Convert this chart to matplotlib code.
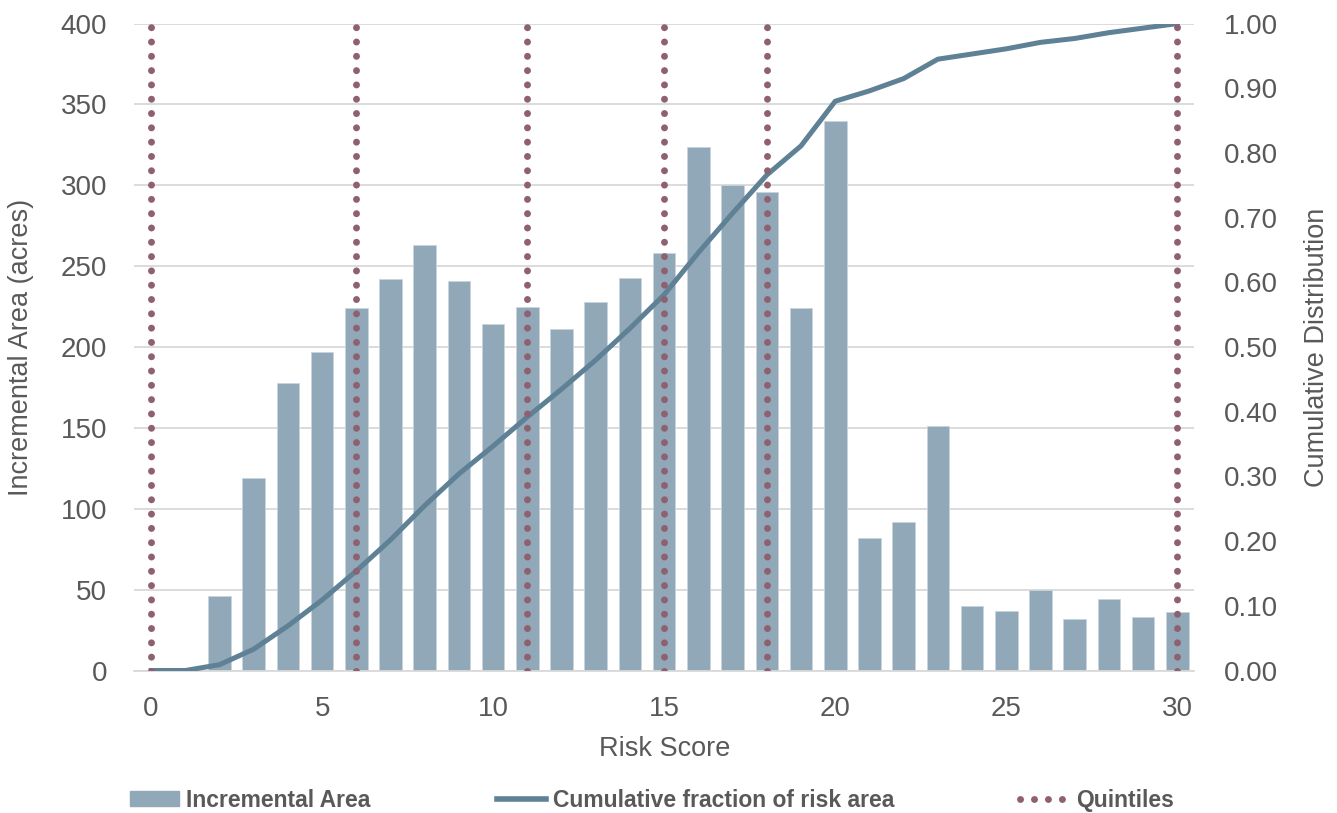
import matplotlib
matplotlib.use("Agg")
import matplotlib.pyplot as plt
from matplotlib.patches import Patch
from matplotlib.lines import Line2D

# ---- data ----
risk_score = list(range(0, 31))
incremental_area = [0, 0, 46, 119, 178, 197, 224, 242, 263, 241, 214, 225, 211, 228, 243,
                    258, 324, 300, 296, 224, 340, 82, 92, 151, 40, 37, 50, 32, 44, 33, 36]
cumulative_fraction = [0.000, 0.000, 0.009, 0.033, 0.069, 0.109, 0.154, 0.202, 0.255, 0.304,
                       0.347, 0.392, 0.435, 0.480, 0.529, 0.581, 0.646, 0.707, 0.766, 0.811,
                       0.880, 0.896, 0.915, 0.945, 0.953, 0.961, 0.971, 0.977, 0.986, 0.993, 1.000]
quintiles = [0, 6, 11, 15, 18, 30]
left_ticks = [0, 50, 100, 150, 200, 250, 300, 350, 400]
right_ticks = [0.0, 0.1, 0.2, 0.3, 0.4, 0.5, 0.6, 0.7, 0.8, 0.9, 1.0]
x_ticks = [0, 5, 10, 15, 20, 25, 30]

# ---- style ----
BAR_C = "#91A8B8"
LINE_C = "#5E8196"
DOT_C = "#8E6070"
GRID_C = "#D9D9D9"
TXT_C = "#595959"
FONT = ["Liberation Sans", "DejaVu Sans"]

plt.rcParams["font.family"] = FONT

W, H = 1337, 813
fig = plt.figure(figsize=(W / 100, H / 100), dpi=100)
ax_l, ax_r, ax_b, ax_t = 134, 1194.4, 670.5, 23.6
ax = fig.add_axes([ax_l / W, 1 - ax_b / H, (ax_r - ax_l) / W, (ax_b - ax_t) / H])

ax.bar(risk_score, incremental_area, width=0.66, color=BAR_C, edgecolor="#C9D5DE",
       linewidth=0.6, zorder=2)
ax.set_xlim(-0.5, 30.5)
ax.set_ylim(0, 400)
ax.set_yticks(left_ticks)
ax.set_xticks(x_ticks)
ax.yaxis.grid(True, color=GRID_C, linewidth=1.3, zorder=0)
ax.set_axisbelow(True)
for s in ["top", "left", "right"]:
    ax.spines[s].set_visible(False)
ax.spines["bottom"].set_color(GRID_C)
ax.spines["bottom"].set_linewidth(1.3)
ax.tick_params(axis="both", length=0, labelsize=20, labelcolor=TXT_C)
ax.tick_params(axis="y", pad=19.5)
ax.tick_params(axis="x", pad=18.5)

ax.set_ylabel("Incremental Area (acres)", fontsize=19.5, color=TXT_C)
ax.yaxis.set_label_coords(-0.107, 0.5)
ax.yaxis.label.set_verticalalignment("center")
ax.set_xlabel("Risk Score", fontsize=19.5, color=TXT_C)
ax.xaxis.set_label_coords(0.5, -0.121)
ax.xaxis.label.set_verticalalignment("center")

ax2 = ax.twinx()
ax2.set_ylim(0, 1.0)
ax2.set_yticks(right_ticks)
ax2.set_yticklabels([f"{v:.2f}" for v in right_ticks])
for s in ["top", "left", "right", "bottom"]:
    ax2.spines[s].set_visible(False)
ax2.tick_params(axis="y", length=0, labelsize=20, labelcolor=TXT_C, pad=21)
ax2.set_ylabel("Cumulative Distribution", fontsize=19.5, color=TXT_C, rotation=90)
ax2.yaxis.set_label_coords(1.1156, 0.5)
ax2.yaxis.label.set_verticalalignment("center")

ax2.plot(risk_score, cumulative_fraction, color=LINE_C, linewidth=3.6,
         solid_joinstyle="round", zorder=3)
for q in quintiles:
    ax2.plot([q, q], [0, 1.0], color=DOT_C, linewidth=5,
             linestyle=(0, (0.01, 2.05)), dash_capstyle="round", zorder=4)

handles = [
    Patch(facecolor=BAR_C, edgecolor=BAR_C),
    Line2D([0], [0], color=LINE_C, linewidth=4),
    Line2D([0], [0], color=DOT_C, linewidth=5, linestyle=(0, (0.01, 2.0)),
           dash_capstyle="round"),
]
labels = ["Incremental Area", "Cumulative fraction of risk area", "Quintiles"]
leg = fig.legend(handles, labels, loc="center left", bbox_to_anchor=(130 / W, 1 - 800 / H),
                 ncol=3, frameon=False, borderpad=0, borderaxespad=0,
                 handlelength=2.15, handleheight=0.6, handletextpad=0.3,
                 columnspacing=5.5,
                 prop={"family": FONT, "weight": "bold", "size": 16.5})
for t in leg.get_texts():
    t.set_color(TXT_C)

fig.savefig("out.png", dpi=100)
